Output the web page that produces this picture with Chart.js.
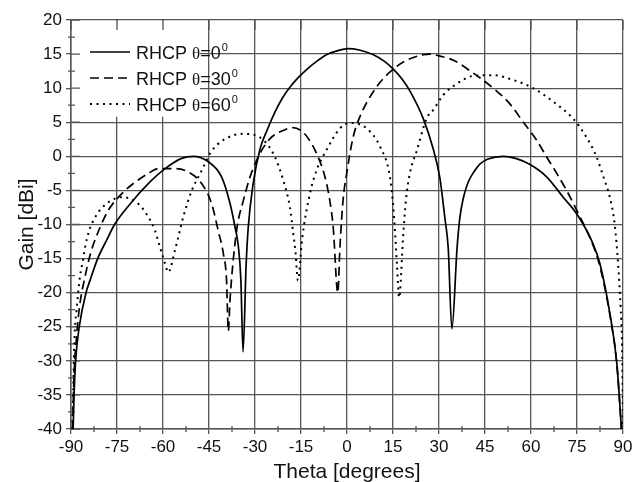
<!DOCTYPE html>
<html>
<head>
<meta charset="utf-8">
<script src="https://cdn.jsdelivr.net/npm/chart.js@4"></script>
<style>
  html, body { margin: 0; padding: 0; background: #fff; }
  #wrap { width: 643px; height: 482px; }
</style>
</head>
<body>
<div id="wrap"><canvas id="gainChart"></canvas></div>
<script>
// RHCP gain cuts
const angles0 = [-89.3, -89, -88.5, -87.3, -85.1, -83.8, -81.3, -78.5, -75.8, -70.2, -64.8, -59.3, -53.9, -50.1, -45.2, -40.9, -38.2, -36.5, -35.4, -34.6, -33.9, -32.9, -32.2, -30.6, -28.4, -26, -23.5, -21, -18.5, -16, -13, -10, -6.7, -3, 0.4, 4, 8.6, 12, 15.1, 18, 20.5, 24.9, 28.1, 30.3, 31.9, 33.0, 34.2, 35.9, 36.8, 38, 39.5, 41.5, 43.4, 46, 50.9, 55, 59.7, 65.1, 70.5, 75.0, 80.2, 82.5, 85.7, 88.0, 89.5]
const gain0 = [-40, -35, -30, -25, -20, -18.2, -15, -12.4, -10, -6.7, -4.0, -1.8, -0.3, 0, -0.8, -3.0, -6.8, -10.4, -13.3, -18.2, -28.7, -16, -10.4, -4.0, 1.0, 3.9, 6.5, 8.6, 10.2, 11.5, 12.8, 13.9, 14.9, 15.5, 15.8, 15.6, 14.9, 14.0, 12.8, 11.3, 9.6, 5.5, 1.1, -3.2, -9, -13.4, -25.3, -13.4, -9, -6, -3.8, -2.2, -1.1, -0.4, 0, -0.3, -1.2, -3.0, -6.0, -8.5, -12.8, -15.8, -23, -30.4, -40]

const angles30 = [-89.5, -89, -88.2, -87.2, -85.4, -83.6, -80.5, -77.8, -73.5, -69.1, -64.8, -61.5, -56.1, -51.8, -47.4, -44.1, -42, -40.3, -39.3, -38.7, -38.1, -36, -33.8, -31.6, -28.4, -25.1, -20.8, -17.6, -14.5, -12.6, -9.9, -7.2, -5.6, -4.5, -3.0, -2.3, -1.3, -0.1, 2.0, 4.2, 9.7, 14.6, 19.5, 24.9, 27.0, 30.3, 34.7, 41.2, 47.7, 53.1, 57.5, 61.8, 65.1, 68.4, 71.6, 75, 80.2, 82.5, 85.7, 88, 89.5]
const gain30 = [-40, -32, -26.5, -22, -17.6, -14.2, -10.4, -7.9, -5.5, -3.8, -2.5, -1.8, -1.8, -2.3, -4.0, -7.0, -10.9, -14.3, -18, -25.6, -20.7, -10.9, -6.5, -3.0, 0.4, 2.6, 3.8, 4.2, 3.6, 2.6, 0.4, -3.0, -6.5, -10.4, -20, -13.3, -6.5, -2.5, 2.8, 5.8, 10.2, 12.6, 14.1, 14.9, 15.0, 14.7, 14.1, 12.2, 10.0, 7.7, 5.0, 2.4, -0.1, -2.5, -5.0, -8.0, -13, -16.2, -23.2, -30.6, -40]

const angles60 = [-89.6, -89.2, -89, -88.7, -88.2, -87.6, -87.1, -86, -85.4, -84, -82.2, -80, -77.3, -74, -70.8, -67.5, -64.8, -62.6, -61, -59.3, -58.3, -56.1, -54.5, -53.4, -50.6, -47.4, -44.4, -40.3, -33.8, -27.3, -23.5, -20.8, -18.6, -17.5, -16.8, -16, -14.6, -12.1, -9.9, -6.6, -2.3, 1, 6.4, 10.8, 14, 15.1, 15.7, 16.3, 17, 18.3, 19.2, 20.5, 22.8, 26, 28.1, 31.4, 34.7, 41.2, 47.7, 54.2, 60.7, 67.3, 73.8, 78.1, 81.4, 83.6, 85.7, 87.3, 88.4, 89.2, 89.7, 90]
const gain60 = [-40, -33, -28.5, -25.1, -22.6, -19.7, -17.7, -15, -13.3, -10.8, -9.0, -7.6, -6.6, -6.0, -6.2, -7.2, -8.9, -10.9, -13.3, -15.8, -17, -13.8, -10.9, -8.9, -5, -2.1, 0.6, 2.4, 3.3, 2.4, -0.1, -3.5, -7.5, -11.4, -14, -18.2, -12, -5.5, -2.0, 1.0, 4.1, 4.9, 4.1, 1.4, -3.0, -7.5, -11.4, -16, -20.7, -11.8, -6.5, -2.5, 0.9, 5.6, 6.8, 9.0, 10.3, 11.8, 11.9, 11.2, 10.0, 8.0, 5.5, 2.8, -0.1, -3.0, -6.0, -10, -15.8, -22, -28, -40]

const seriesNames = ['RHCP θ=0', 'RHCP θ=30', 'RHCP θ=60']
const xTicks = [-90, -75, -60, -45, -30, -15, 0, 15, 30, 45, 60, 75, 90]
const yTicks = [-40, -35, -30, -25, -20, -15, -10, -5, 0, 5, 10, 15, 20]

const toPoints = (xs, ys) => xs.map((x, i) => ({ x: x, y: ys[i] }))
const FONT = "'Liberation Sans', Arial, sans-serif"
const GRID = '#555'

// minor ticks, inner ticks and the boxed legend in the upper left
const decor = {
    id: 'decor',
    beforeDatasetsDraw(chart) {
        const ctx = chart.ctx
        const a = chart.chartArea
        const xs = chart.scales.x
        const ys = chart.scales.y
        ctx.save()
        // legend box hides the grid behind it
        ctx.fillStyle = '#fff'
        ctx.fillRect(a.left + 1, a.top + 1, xs.getPixelForValue(-60) - a.left + 36, ys.getPixelForValue(5.8) - a.top - 1)

        ctx.strokeStyle = GRID
        ctx.lineWidth = 1.3
        ctx.beginPath()
        // y: minor ticks outside, major+minor inside
        for (let i = 0; i < yTicks.length; i++) {
            const p = ys.getPixelForValue(yTicks[i])
            ctx.moveTo(a.left, p); ctx.lineTo(a.left + 9, p)
            if (i < yTicks.length - 1) {
                const m = ys.getPixelForValue((yTicks[i] + yTicks[i + 1]) / 2)
                ctx.moveTo(a.left - 3, m); ctx.lineTo(a.left + 4, m)
            }
        }
        // x: minor ticks bottom, major ticks inside top
        for (let i = 0; i < xTicks.length; i++) {
            const p = xs.getPixelForValue(xTicks[i])
            ctx.moveTo(p, a.top); ctx.lineTo(p, a.top + 10)
            if (i < xTicks.length - 1) {
                const m = xs.getPixelForValue((xTicks[i] + xTicks[i + 1]) / 2)
                ctx.moveTo(m, a.bottom + 3); ctx.lineTo(m, a.bottom - 3)
            }
        }
        ctx.stroke()

        // legend entries
        const x0 = a.left + 19
        chart.data.datasets.forEach((ds, i) => {
            const yy = a.top + 32 + i * 26
            ctx.strokeStyle = '#000'
            ctx.lineWidth = ds.borderWidth
            ctx.setLineDash(ds.borderDash || [])
            ctx.beginPath()
            ctx.moveTo(x0, yy); ctx.lineTo(x0 + 40, yy)
            ctx.stroke()
            ctx.setLineDash([])
            ctx.fillStyle = '#111'
            ctx.textBaseline = 'alphabetic'
            let tx = x0 + 46
            const base = yy + 6.5
            const parts = ds.label.split('θ')
            ctx.font = '18px ' + FONT
            ctx.fillText(parts[0], tx, base)
            tx += ctx.measureText(parts[0]).width
            ctx.font = "17px 'Liberation Serif', 'DejaVu Serif', serif"
            ctx.fillText('θ', tx, base)
            tx += ctx.measureText('θ').width
            ctx.font = '18px ' + FONT
            ctx.fillText(parts[1], tx, base)
            tx += ctx.measureText(parts[1]).width + 1
            ctx.font = '11px ' + FONT
            ctx.fillText('0', tx, base - 8)
        })
        ctx.restore()
    }
}

const lineStyles = [[], [9, 5], [2, 4.5]]
const seriesData = [toPoints(angles0, gain0), toPoints(angles30, gain30), toPoints(angles60, gain60)]

new Chart(document.getElementById('gainChart'), {
    type: 'line',
    data: {
        datasets: seriesData.map((pts, i) => ({
            label: seriesNames[i],
            data: pts,
            borderColor: '#000',
            borderWidth: i === 2 ? 2 : 1.7,
            borderDash: lineStyles[i],
            pointRadius: 0,
            cubicInterpolationMode: 'monotone',
            fill: false
        }))
    },
    options: {
        responsive: true,
        maintainAspectRatio: false,
        animation: false,
        events: [],
        layout: { padding: { top: 20, right: 20, left: 0, bottom: 0 } },
        plugins: {
            legend: { display: false },
            tooltip: { enabled: false }
        },
        scales: {
            x: {
                type: 'linear',
                min: -90,
                max: 90,
                afterFit: s => { s.height = 53 },
                afterBuildTicks: s => { s.ticks = xTicks.map(v => ({ value: v })) },
                ticks: { color: '#111', font: { family: FONT, size: 17 }, padding: 3, maxRotation: 0, autoSkip: false },
                grid: { color: GRID, lineWidth: 1.3, drawTicks: true, tickLength: 5 },
                border: { color: GRID, width: 1.5 },
                title: { display: true, text: 'Theta [degrees]', color: '#111', font: { family: FONT, size: 21 }, padding: { top: 0, bottom: -3 } }
            },
            y: {
                min: -40,
                max: 20,
                afterFit: s => { s.width = 71 },
                afterBuildTicks: s => { s.ticks = yTicks.map(v => ({ value: v })) },
                ticks: { color: '#111', font: { family: FONT, size: 17 }, padding: 4, autoSkip: false },
                grid: { color: GRID, lineWidth: 1.3, drawTicks: true, tickLength: 5 },
                border: { color: GRID, width: 1.5 },
                title: { display: true, text: 'Gain [dBi]', color: '#111', font: { family: FONT, size: 21 }, padding: { top: 15, bottom: 0 } }
            }
        }
    },
    plugins: [decor]
})
</script>
</body>
</html>
